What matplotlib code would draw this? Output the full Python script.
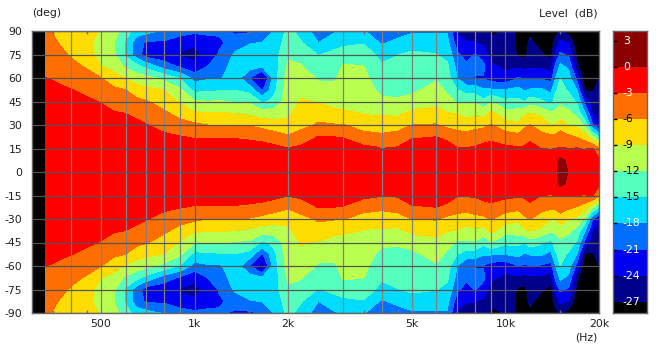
import numpy as np
import matplotlib
matplotlib.use('Agg')
import matplotlib.pyplot as plt

# frequency of each column, Hz
freqs = [332, 400, 450, 500, 550, 600, 650, 700, 800, 900, 1000, 1100, 1200, 1350, 1500,
         1650, 1800, 2000, 2200, 2500, 2800, 3000, 3500, 3800, 4000, 4500, 5000, 6000,
         6500, 7000, 7500, 8000, 8500, 9000, 10000, 10500, 11000, 11500, 12000, 13000,
         14000, 14500, 15000, 16000, 17000, 18000, 19000, 20000]

# off-axis angles of the values in each column below
angles = [0, 7.5, 15, 22.5, 30, 37.5, 45, 52.5, 60, 67.5, 75, 82.5, 90]

# level in dB
at_332 = [-0.8, -0.9, -1, -1.2, -1.5, -1.8, -2.2, -2.6, -2.95, -3.6, -4.2, -4.9, -5.5]
at_400 = [-0.8, -0.9, -1, -1.2, -1.5, -1.9, -2.4, -2.95, -4, -5.1, -6.3, -7.2, -8]
at_450 = [-0.8, -1, -1.2, -1.4, -1.8, -2.2, -2.7, -3.4, -4.6, -6.4, -7.6, -8.3, -8.6]
at_500 = [-0.8, -1, -1.2, -1.5, -1.9, -2.4, -3.1, -4.4, -5.9, -8.9, -10.4, -10, -9.1]
at_550 = [-0.8, -1, -1.3, -1.7, -2.1, -2.8, -4, -5.4, -7.8, -10, -11.5, -11.9, -10.8]
at_600 = [-0.8, -1, -1.4, -1.9, -2.4, -3, -4.5, -6, -9, -12.5, -15.5, -15.4, -13.5]
at_650 = [-0.8, -1.1, -1.5, -2, -2.7, -3.3, -5.1, -7.8, -10.4, -14, -19.5, -19.5, -16.5]
at_700 = [-0.8, -1.1, -1.6, -2.1, -2.9, -4.2, -5.8, -8.3, -11, -16, -22.5, -21.5, -17]
at_800 = [-0.8, -1.1, -1.7, -2.5, -3.9, -5.5, -7.3, -9.1, -12.9, -19.6, -22.8, -21.6, -18.3]
at_900 = [-0.8, -1.1, -1.8, -2.9, -4.8, -7.1, -9.4, -11.6, -15.2, -21.5, -24.3, -23, -19.5]
at_1000 = [-0.9, -1.2, -1.9, -3.2, -5.4, -8.6, -11.6, -15.9, -19, -23.4, -24.8, -23.6, -20.3]
at_1100 = [-0.9, -1.2, -1.9, -3.2, -6, -8.8, -11.9, -15.6, -18.4, -21, -23.2, -22.3, -20.3]
at_1200 = [-0.9, -1.2, -1.9, -3.2, -6, -8.8, -11.7, -15.3, -18.5, -19.5, -20.6, -21.6, -20.5]
at_1350 = [-0.9, -1.2, -1.9, -3.2, -6.1, -9, -12.3, -15.1, -16, -16.6, -17.5, -19.6, -21.5]
at_1500 = [-0.9, -1.2, -2, -3.4, -6.2, -9.6, -12.5, -16, -21, -16.5, -16, -18.3, -21.5]
at_1650 = [-0.9, -1.2, -2.1, -3.7, -7, -10.5, -15.5, -21.3, -25.5, -17.5, -16.5, -17.8, -20.8]
at_1800 = [-0.9, -1.2, -2.3, -4.4, -7.9, -10.3, -14.3, -15.8, -16.5, -16.5, -16.3, -16.8, -18]
at_2000 = [-1, -1.7, -2.9, -5.6, -8.2, -9.5, -10, -10.3, -10.6, -11.4, -12.5, -13.5, -14]
at_2200 = [-0.9, -1.4, -2.3, -4.7, -6.9, -7.7, -8.8, -9.5, -10.2, -11.8, -13, -14.7, -16.3]
at_2500 = [-0.9, -1.3, -2.1, -2.9, -5.6, -7.2, -9.2, -10.9, -12.4, -13.6, -15.1, -18, -19.5]
at_2800 = [-0.9, -1.3, -2.1, -3, -5.8, -8.2, -9.9, -11, -12.5, -13.7, -14.4, -16, -18.5]
at_3000 = [-0.9, -1.3, -2.1, -3.1, -5.8, -8.6, -9.8, -10.4, -11, -11.7, -13.7, -15.6, -17.5]
at_3500 = [-0.9, -1.4, -2.3, -4.8, -7.4, -9.1, -9.8, -10.3, -11, -11.9, -13.4, -15.2, -17.7]
at_3800 = [-1, -1.5, -2.6, -5.1, -7.5, -9.4, -10.8, -11.9, -13, -14, -14.9, -17.4, -19.3]
at_4000 = [-1, -1.8, -3, -5.4, -7.5, -9.2, -11.5, -12.6, -13.5, -14.6, -16, -18.3, -20.5]
at_4500 = [-1, -1.5, -2.7, -4.8, -7.3, -9.7, -11.8, -12.4, -13, -13.8, -15.1, -17.3, -19.2]
at_5000 = [-0.9, -1.3, -2.1, -3.2, -6, -8.1, -11.2, -12.5, -13.1, -13.7, -14.5, -16.2, -18.5]
at_6000 = [-0.9, -1.2, -2, -3, -5.8, -7.8, -9.9, -11, -12.3, -13.5, -14.9, -16.5, -18.5]
at_6500 = [-0.9, -1.3, -2.1, -3.5, -6.8, -8.9, -10.8, -12.5, -13.6, -14.5, -15.8, -17.2, -18.2]
at_7000 = [-0.9, -1.6, -2.8, -5, -6.9, -9.1, -12.5, -15, -18.1, -19, -20.4, -22.6, -24.5]
at_7500 = [-0.9, -1.5, -2.8, -5, -7.3, -10.2, -12.5, -16.3, -20.7, -20.3, -22.3, -23.8, -25]
at_8000 = [-0.9, -1.4, -2.6, -4.7, -6.8, -9.8, -12.3, -16.3, -21.2, -20, -20.8, -23.9, -25.5]
at_8500 = [-0.9, -1.3, -2.3, -3.9, -6.7, -10.2, -14.3, -17.7, -21.2, -20.4, -22.3, -24.6, -25.7]
at_9000 = [-0.9, -1.3, -2.2, -3.5, -5.8, -8.2, -12, -17.7, -22.5, -23.5, -25.2, -26.5, -27.5]
at_10000 = [-0.9, -1.4, -2.4, -4.6, -7.6, -10.8, -14.3, -17.9, -23.1, -24.6, -25.2, -26, -26.8]
at_10500 = [-0.9, -1.4, -2.5, -4.8, -8, -10.8, -14.2, -17.5, -22, -24.7, -25.5, -26, -26.5]
at_11000 = [-0.9, -1.5, -2.7, -5, -8.5, -10.7, -14.2, -17.2, -20.7, -24.6, -27.7, -28, -28]
at_11500 = [-0.9, -1.4, -2.5, -4.7, -6.5, -9.6, -15, -18.3, -21.5, -25, -28, -28, -28]
at_12000 = [-0.9, -1.3, -2.2, -3.6, -5.9, -8.9, -13.3, -17.8, -21, -24.6, -25.6, -26.5, -27.6]
at_13000 = [-1, -1.8, -3, -5.1, -7.2, -9.7, -14.4, -17.6, -21.3, -24.7, -26.6, -28, -28.5]
at_14000 = [-0.8, -1.5, -3.1, -5.4, -8.9, -11.6, -16, -18.8, -22, -25.3, -28, -28.5, -28.5]
at_14500 = [-0.5, -0.9, -3, -5.1, -8.8, -11.4, -13.6, -15.5, -18, -20.2, -23.2, -26, -28]
at_15000 = [0.9, 0.8, -2.8, -4.7, -7.3, -10.6, -12.6, -14, -14.9, -17.4, -20.4, -23.2, -26.7]
at_16000 = [-0.1, -0.7, -3, -5.4, -9, -11.3, -13.5, -15.5, -16.9, -18.6, -21.6, -24.4, -28.5]
at_17000 = [-0.5, -1.2, -2.8, -6.2, -9.7, -13.2, -15.4, -18.2, -22, -26.5, -27.9, -29, -29]
at_18000 = [-0.9, -1.8, -3.2, -7.5, -12.6, -17.6, -21.7, -27.3, -29, -29, -29, -29, -29]
at_19000 = [-0.9, -1.8, -2.7, -10.8, -20.2, -23.8, -25.6, -27.3, -28, -28.5, -29, -29, -29]
at_20000 = [-1.5, -2.4, -5.4, -15, -24, -25, -25.8, -26.3, -27, -28.5, -29, -29, -29]

columns = [at_332, at_400, at_450, at_500, at_550, at_600, at_650, at_700, at_800, at_900,
           at_1000, at_1100, at_1200, at_1350, at_1500, at_1650, at_1800, at_2000, at_2200,
           at_2500, at_2800, at_3000, at_3500, at_3800, at_4000, at_4500, at_5000, at_6000,
           at_6500, at_7000, at_7500, at_8000, at_8500, at_9000, at_10000, at_10500, at_11000,
           at_11500, at_12000, at_13000, at_14000, at_14500, at_15000, at_16000, at_17000,
           at_18000, at_19000, at_20000]

band_edges = [-100, -27, -24, -21, -18, -15, -12, -9, -6, -3, 0, 100]
band_colors = ['#000000', '#00008b', '#0000f0', '#006eff', '#00dcff', '#55ffbe',
               '#b9ff50', '#ffdc00', '#ff6e00', '#ff0000', '#8b0000']

bar_values = [3, 0, -3, -6, -9, -12, -15, -18, -21, -24, -27]
bar_label_colors = ['white', 'white', 'white', 'black', 'black', 'black', 'black',
                    'white', 'white', 'white', 'white']
bar_tick_colors = ['#20b0b0', '#20b0b0', '#20b0b0', '#2060d0', '#2060d0', '#d06020',
                   '#c07030', '#b0b040', '#c0a030', '#c0a030', '#e0e0e0']

x_major = [500, 1000, 2000, 5000, 10000, 20000]
x_major_labels = ['500', '1k', '2k', '5k', '10k', '20k']
x_grid = [400, 500, 600, 700, 800, 900, 2000, 3000, 4000, 5000, 6000, 7000, 8000, 9000]
x_grid_dark = [1000, 10000]
x_small = [350, 450, 1500, 2500, 3500, 4500, 15000]
y_ticks = [90, 75, 60, 45, 30, 15, 0, -15, -30, -45, -60, -75, -90]

W, H = 661, 348
fig = plt.figure(figsize=(W / 100, H / 100), dpi=100)
ax = fig.add_axes([32 / W, (H - 313) / H, (599 - 32) / W, (313 - 31) / H])
ax.set_facecolor('black')

upper = np.array(columns).T
level = np.vstack([upper[:0:-1], upper])
ang = np.concatenate([-np.array(angles[:0:-1]), angles])
ax.contourf(freqs, ang, level, levels=band_edges, colors=band_colors)

ax.set_xscale('log')
ax.set_xlim(300, 20000)
ax.set_ylim(-90, 90)
ax.set_xticks(x_major)
ax.set_xticklabels(x_major_labels, fontsize=7.8, color='#202020')
ax.set_xticks(x_small, minor=True)
ax.set_xticklabels([], minor=True)
ax.tick_params(axis='x', which='major', length=0, pad=4.5)
ax.tick_params(axis='x', which='minor', length=2, direction='in', top=True, color='#707070', width=1)
ax.set_yticks(y_ticks)
ax.set_yticklabels([str(v) for v in y_ticks], fontsize=7.8, color='#202020')
ax.tick_params(axis='y', length=0, pad=7)

for f in x_grid:
    ax.axvline(f, color='#808080', lw=0.9)
for f in x_grid_dark:
    ax.axvline(f, color='#606060', lw=0.9)
for a in y_ticks:
    ax.axhline(a, color='#555555', lw=0.9)
for s in ax.spines.values():
    s.set_color('#666666')
    s.set_linewidth(1)

fig.text(32 / W, 1 - 13 / H, '(deg)', fontsize=7.8, color='#202020', va='center')
fig.text(598 / W, 1 - 13 / H, 'Level  (dB)', fontsize=7.8, color='#202020', va='center', ha='right')
fig.text(598 / W, 1 - 337 / H, '(Hz)', fontsize=7.8, color='#202020', va='center', ha='right')

# level scale at the right
cax = fig.add_axes([613 / W, (H - 313) / H, (647 - 613) / W, (313 - 31) / H])
bar_edges = [-28.3, -27, -24, -21, -18, -15, -12, -9, -6, -3, 0, 4.15]
for i, c in enumerate(band_colors):
    cax.axhspan(bar_edges[i], bar_edges[i + 1], color=c, lw=0)
cax.set_ylim(bar_edges[0], bar_edges[-1])
cax.set_xlim(0, 1)
cax.set_xticks([])
cax.set_yticks(bar_values)
cax.set_yticklabels([])
cax.tick_params(axis='y', length=3, direction='in', width=1)
for tick, c in zip(cax.yaxis.get_major_ticks(), bar_tick_colors):
    tick.tick1line.set_color(c)
for v, c in zip(bar_values, bar_label_colors):
    cax.text(0.29, v, str(v), color=c, fontsize=7.8, va='center', ha='left')
for s in cax.spines.values():
    s.set_color('#666666')
    s.set_linewidth(1)

fig.savefig('out.png', dpi=100)
